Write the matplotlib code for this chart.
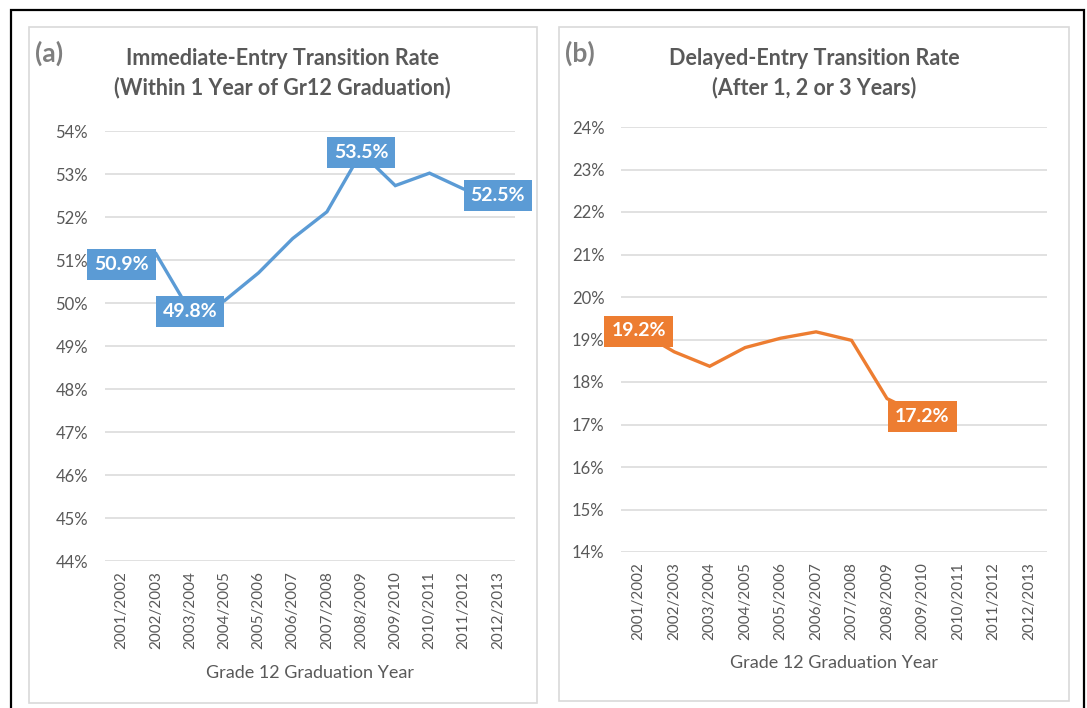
import matplotlib.pyplot as plt
from matplotlib.patches import Rectangle
from matplotlib.lines import Line2D

plt.rcParams['font.family'] = ['Lato', 'DejaVu Sans']

years = ["2001/2002", "2002/2003", "2003/2004", "2004/2005", "2005/2006", "2006/2007",
         "2007/2008", "2008/2009", "2009/2010", "2010/2011", "2011/2012", "2012/2013"]

# immediate entry (%), within 1 year
immediate = [50.9, 51.15, 49.8, 50.05, 50.7, 51.5, 52.12, 53.5, 52.73, 53.02, 52.65, 52.5]
immediate_labels = [0, 2, 7, 11]

# delayed entry (%), after 1, 2 or 3 years - no data for the last 3 years
delayed = [19.2, 18.71, 18.37, 18.81, 19.03, 19.18, 18.98, 17.61, 17.2]
delayed_labels = [0, 8]

W, H = 1087, 708
fig = plt.figure(figsize=(W / 100, H / 100), dpi=100)

def px(x0, y0, x1, y1):
    # pixel box (top-left origin) -> figure fraction rect
    return [x0 / W, 1 - y1 / H, (x1 - x0) / W, (y1 - y0) / H]

grey = "#595959"

# outer black frame (no bottom edge)
fig.add_artist(Line2D([11 / W, 11 / W, 1084 / W, 1084 / W], [0, 1 - 10 / H, 1 - 10 / H, 0],
                      color="black", lw=1.6, solid_joinstyle="miter"))

# light panel borders
for (x0, y0, x1, y1) in [(29, 27, 537, 703), (559, 27, 1069, 701)]:
    r = px(x0, y0, x1, y1)
    fig.add_artist(Rectangle((r[0], r[1]), r[2], r[3], transform=fig.transFigure,
                             fill=False, ec="#d9d9d9", lw=1.2))


def panel(rect, values, label_idx, ylo, color, letter, title, title_x, letter_x, xlab_y):
    ax = fig.add_axes(px(*rect))
    x = list(range(len(values)))
    ax.plot(x, values, color=color, lw=2.4, zorder=3, solid_joinstyle="miter")
    for i in label_idx:
        ax.text(i, values[i], f"{values[i]:.1f}%", ha="center", va="center",
                color="white", fontsize=14, fontweight="bold", zorder=5,
                bbox=dict(boxstyle="square,pad=0.36", fc=color, ec="none"))
    ax.set_xlim(-0.5, 11.5)
    ax.set_ylim(ylo, ylo + 10)
    ax.set_yticks(range(ylo, ylo + 11))
    ax.set_yticklabels([f"{v}%" for v in range(ylo, ylo + 11)])
    ax.set_xticks(range(len(years)))
    ax.set_xticklabels(years, rotation=90)
    ax.tick_params(axis="y", length=0, pad=12, labelsize=12, labelcolor=grey)
    ax.tick_params(axis="x", length=0, pad=7, labelsize=11, labelcolor=grey)
    ax.grid(axis="y", color="#d9d9d9", lw=1.1)
    ax.set_axisbelow(True)
    for s in ax.spines.values():
        s.set_visible(False)
    fig.text(title_x / W, 1 - 73 / H, title, ha="center", va="center",
             fontsize=15.5, fontweight="bold", color=grey, linespacing=1.45)
    fig.text(letter_x / W, 1 - 53 / H, letter, ha="left", va="center",
             fontsize=19, fontweight="bold", color="#7f7f7f")
    fig.text((rect[0] + rect[2]) / 2 / W, 1 - xlab_y / H, "Grade 12 Graduation Year",
             ha="center", va="center", fontsize=13, color=grey)
    return ax


panel((104.6, 131, 515, 561), immediate, immediate_labels, 44, "#5b9bd5", "(a)",
      "Immediate-Entry Transition Rate\n(Within 1 Year of Gr12 Graduation)", 282, 35, 673)
panel((621, 127, 1046.6, 552), delayed, delayed_labels, 14, "#ed7d31", "(b)",
      "Delayed-Entry Transition Rate\n(After 1, 2 or 3 Years)", 814, 565, 663)

fig.savefig("out.png", dpi=100)
